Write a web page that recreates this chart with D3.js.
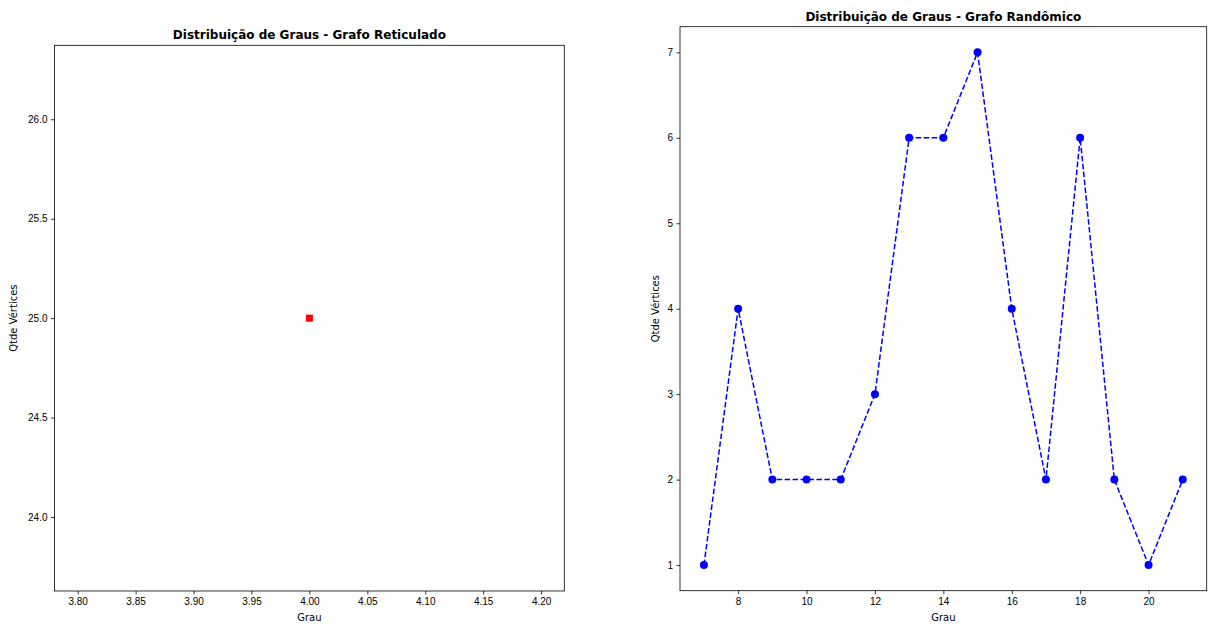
<!DOCTYPE html>
<html>
<head>
<meta charset="utf-8">
<script src="https://cdn.jsdelivr.net/npm/d3@7"></script>
<style>
  body { margin: 0; background: #fff; }
  svg { font-family: "DejaVu Sans", sans-serif; }
  .tick text { font-size: 10px; fill: #000; }
  .tick line, .domain { stroke: #000; stroke-width: 0.8; }
</style>
</head>
<body>
<svg id="chart" width="1209" height="626"></svg>
<script>
// reticulated graph: every vertex has degree 4
const gridDegrees = [4];
const gridCounts = [25];
const gridXTicks = [3.8, 3.85, 3.9, 3.95, 4.0, 4.05, 4.1, 4.15, 4.2];
const gridYTicks = [24.0, 24.5, 25.0, 25.5, 26.0];

// random graph
const randDegrees = [7, 8, 9, 10, 11, 12, 13, 14, 15, 16, 17, 18, 19, 20, 21];
const randCounts = [1, 4, 2, 2, 2, 3, 6, 6, 7, 4, 2, 6, 2, 1, 2];
const randXTicks = [8, 10, 12, 14, 16, 18, 20];
const randYTicks = [1, 2, 3, 4, 5, 6, 7];

const svg = d3.select("#chart");

function drawPanel(box, xDomain, yDomain, xTicks, yTicks, xFmt, yFmt, title) {
  const x = d3.scaleLinear().domain(xDomain).range([box.left, box.right]);
  const y = d3.scaleLinear().domain(yDomain).range([box.bottom, box.top]);
  const g = svg.append("g");

  g.append("g")
    .attr("transform", `translate(0,${box.bottom})`)
    .call(d3.axisBottom(x).tickValues(xTicks).tickFormat(xFmt).tickSize(3.5).tickSizeOuter(0).tickPadding(3.5))
    .call((a) => a.select(".domain").remove());
  g.append("g")
    .attr("transform", `translate(${box.left},0)`)
    .call(d3.axisLeft(y).tickValues(yTicks).tickFormat(yFmt).tickSize(3.5).tickSizeOuter(0).tickPadding(3.5))
    .call((a) => a.select(".domain").remove());

  g.append("rect")
    .attr("x", box.left).attr("y", box.top)
    .attr("width", box.right - box.left).attr("height", box.bottom - box.top)
    .attr("fill", "none").attr("stroke", "#000").attr("stroke-width", 0.8);

  g.append("text")
    .attr("x", (box.left + box.right) / 2).attr("y", box.top - 6)
    .attr("text-anchor", "middle").attr("font-size", 12).attr("font-weight", "bold")
    .text(title);
  g.append("text")
    .attr("x", (box.left + box.right) / 2).attr("y", box.bottom + 30)
    .attr("text-anchor", "middle").attr("font-size", 10)
    .text("Grau");
  g.append("text")
    .attr("transform", `translate(${box.ylab},${(box.top + box.bottom) / 2}) rotate(-90)`)
    .attr("text-anchor", "middle").attr("font-size", 10)
    .text("Qtde Vértices");

  return { g, x, y };
}

// left panel
const left = drawPanel(
  { left: 54.5, right: 564.3, top: 45.3, bottom: 591, ylab: 17 },
  [3.78, 4.22], [25 - 1.372, 25 + 1.372],
  gridXTicks, gridYTicks, d3.format(".2f"), d3.format(".1f"),
  "Distribuição de Graus - Grafo Reticulado"
);
left.g.append("g")
  .selectAll("rect")
  .data(gridDegrees.map((d, i) => [d, gridCounts[i]]))
  .join("rect")
  .attr("x", (d) => left.x(d[0]) - 3.5)
  .attr("y", (d) => left.y(d[1]) - 3.5)
  .attr("width", 7).attr("height", 7)
  .attr("fill", "red");

// right panel
const right = drawPanel(
  { left: 680, right: 1206.7, top: 26.7, bottom: 590.7, ylab: 659 },
  [6.3, 21.7], [0.7, 7.3],
  randXTicks, randYTicks, d3.format("d"), d3.format("d"),
  "Distribuição de Graus - Grafo Randômico"
);
const pts = randDegrees.map((d, i) => [d, randCounts[i]]);
right.g.append("path")
  .datum(pts)
  .attr("fill", "none")
  .attr("stroke", "blue")
  .attr("stroke-width", 1.5)
  .attr("stroke-dasharray", "5.55,2.4")
  .attr("d", d3.line().x((d) => right.x(d[0])).y((d) => right.y(d[1])));
right.g.append("g")
  .selectAll("circle")
  .data(pts)
  .join("circle")
  .attr("cx", (d) => right.x(d[0]))
  .attr("cy", (d) => right.y(d[1]))
  .attr("r", 4)
  .attr("fill", "blue");
</script>
</body>
</html>
